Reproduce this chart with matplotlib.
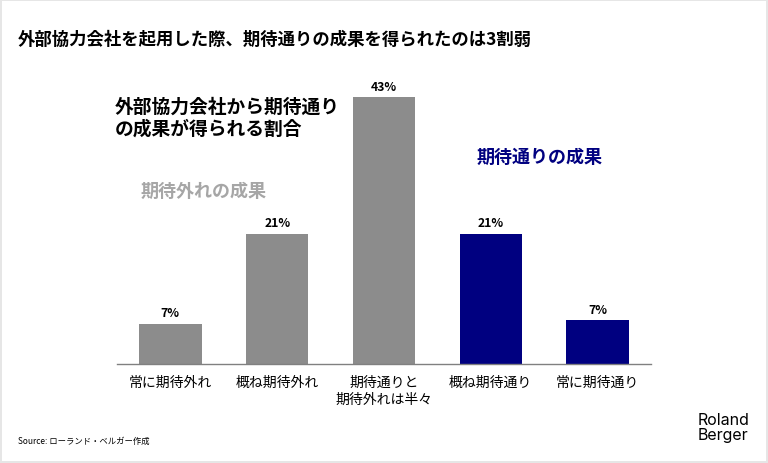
import numpy as np
import matplotlib.pyplot as plt

plt.rcParams['font.family'] = ['Noto Sans CJK JP', 'DejaVu Sans']

# -------------------
#    Data
# -------------------
categories = ['常に期待外れ', '概ね期待外れ', '期待通りと\n期待外れは半々', '概ね期待通り', '常に期待通り']
values = [6.5, 21, 43, 21, 7.1]
value_labels = ['7%', '21%', '43%', '21%', '7%']
bar_colors = ['#8c8c8c', '#8c8c8c', '#8c8c8c', '#000080', '#000080']

GRAY_TXT = '#a6a6a6'
NAVY = '#000080'

# -------------------
#    Plotting area
# -------------------
fig = plt.figure(figsize=(7.68, 4.64), dpi=100)
fig.patch.set_edgecolor('#e6e6e6')
fig.patch.set_linewidth(1.5)

ax = fig.add_axes([0.1523, 0.2134, 0.6953, 0.669])
x = np.arange(len(categories))
ax.bar(x, values, width=0.585, color=bar_colors)

for xi, v, lab in zip(x, values, value_labels):
    ax.text(xi, v + 0.7, lab, ha='center', va='bottom', fontsize=8.8, fontweight='bold')

ax.set_xlim(-0.5, 4.5)
ax.set_ylim(0, 50)
ax.set_yticks([])
ax.set_xticks(x)
ax.set_xticklabels(categories, fontsize=10, linespacing=1.25)
ax.tick_params(axis='x', length=0, pad=8)
for s in ['top', 'right', 'left']:
    ax.spines[s].set_visible(False)
ax.spines['bottom'].set_color('#808080')
ax.spines['bottom'].set_linewidth(1)

# Titles and annotations
fig.text(18/768, 1 - 40/464, '外部協力会社を起用した際、期待通りの成果を得られたのは3割弱',
         fontsize=12.5, fontweight='bold', va='center', ha='left')
fig.text(115/768, 1 - 118/464, '外部協力会社から期待通り\nの成果が得られる割合',
         fontsize=13.5, fontweight='bold', va='center', ha='left', linespacing=1.2)
fig.text(141/768, 1 - 191/464, '期待外れの成果', color=GRAY_TXT,
         fontsize=13, fontweight='bold', va='center', ha='left')
fig.text(477/768, 1 - 157/464, '期待通りの成果', color=NAVY,
         fontsize=13, fontweight='bold', va='center', ha='left')

fig.text(18/768, 1 - 441/464, 'Source: ローランド・ベルガー作成',
         fontsize=6, va='center', ha='left')
fig.text(698/768, 1 - 428/464, 'Roland\nBerger', fontsize=11.5, family=['Inter', 'DejaVu Sans'],
         va='center', ha='left', linespacing=1.0)

plt.savefig('out.png', dpi=100, edgecolor=fig.get_edgecolor())
